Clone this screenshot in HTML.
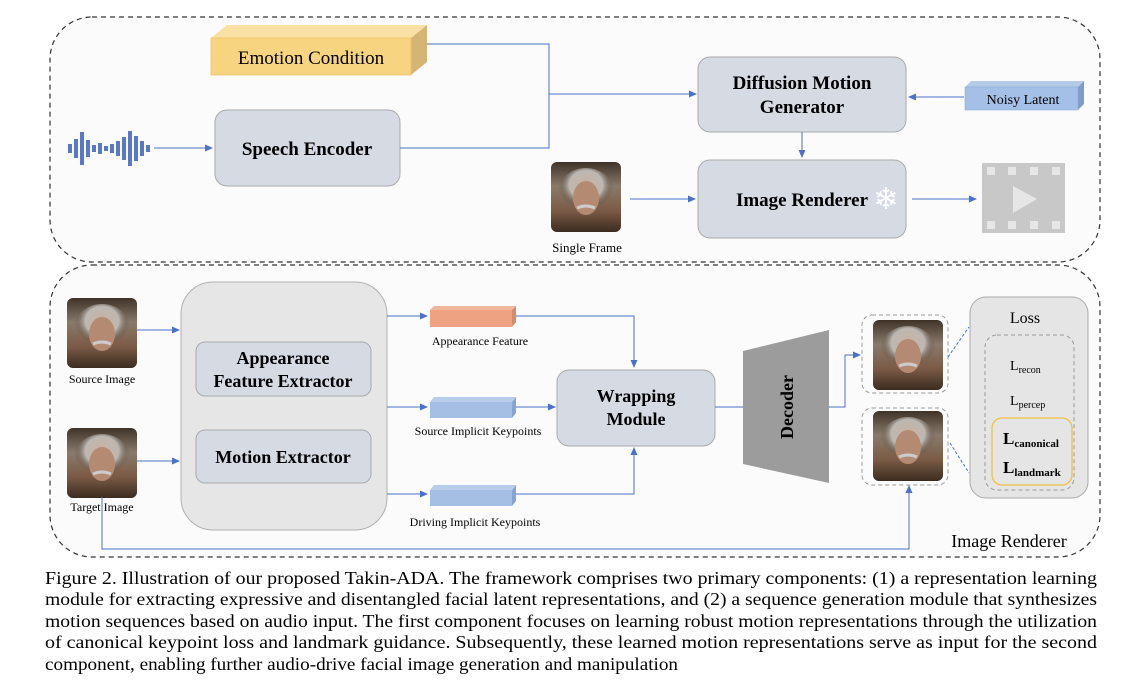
<!DOCTYPE html>
<html><head><meta charset="utf-8"><style>
html,body{margin:0;padding:0;background:#fff}
svg{display:block}
text{font-family:"Liberation Serif",serif}
.b{font-weight:bold}
</style></head><body>
<svg width="1138" height="696" viewBox="0 0 1138 696" xmlns="http://www.w3.org/2000/svg">
<defs>
<marker id="a" markerWidth="8" markerHeight="8" refX="7" refY="4" orient="auto" markerUnits="userSpaceOnUse"><path d="M0,0.5 L8,4 L0,7.5z" fill="#4a72c8"/></marker>
<linearGradient id="face" x1="0" y1="0" x2="0" y2="1"><stop offset="0" stop-color="#3f3328"/><stop offset="0.35" stop-color="#8a7a6a"/><stop offset="0.7" stop-color="#7a5a45"/><stop offset="1" stop-color="#3a2c20"/></linearGradient>
<radialGradient id="hair" cx="0.5" cy="0.35" r="0.5"><stop offset="0" stop-color="#c8b2a0"/><stop offset="0.6" stop-color="#bdb8b2"/><stop offset="1" stop-color="#4a3f35" stop-opacity="0"/></radialGradient>
<g id="faceimg"><rect x="0" y="0" width="70" height="70" rx="6" fill="url(#face)"/><ellipse cx="35" cy="30" rx="28" ry="24" fill="url(#hair)"/><ellipse cx="35" cy="36" rx="13" ry="17" fill="#b58a72"/><path d="M26,46 q9,-4 18,0" stroke="#ccc" stroke-width="3" fill="none"/></g>
</defs>
<rect width="1138" height="696" fill="#fff"/>
<rect x="50" y="17" width="1050" height="245" rx="42" fill="#fbfbfb" stroke="#333" stroke-width="1.2" stroke-dasharray="5,4"/>
<polygon points="211,38 227,25 427,25 411,38" fill="#f9e0a4"/>
<polygon points="411,38 427,25 427,62 411,75" fill="#d6b474"/>
<rect x="211" y="38" width="200" height="37" fill="#f7d47f" stroke="#efc46a" stroke-width="0.8"/>
<text x="311" y="64" font-size="19" text-anchor="middle">Emotion Condition</text>
<g fill="#5a78c8">
<rect x="68" y="144" width="4" height="9"/><rect x="74" y="139" width="4" height="19"/><rect x="80" y="132" width="4" height="33"/><rect x="86" y="140" width="4" height="17"/><rect x="92" y="145" width="4" height="7"/><rect x="98" y="143" width="4" height="11"/><rect x="104" y="146" width="4" height="5"/><rect x="110" y="144" width="4" height="9"/><rect x="116" y="141" width="4" height="15"/><rect x="122" y="137" width="4" height="23"/><rect x="128" y="131" width="4" height="35"/><rect x="134" y="136" width="4" height="25"/><rect x="140" y="141" width="4" height="15"/><rect x="146" y="145" width="4" height="7"/>
</g>
<line x1="154" y1="148" x2="212" y2="148" stroke="#4a72c8" stroke-width="1" marker-end="url(#a)"/>
<rect x="215" y="110" width="185" height="76" rx="12" fill="#d6dae3" stroke="#aaa"/>
<text x="307" y="155" font-size="19" class="b" text-anchor="middle">Speech Encoder</text>
<polyline points="427,44 549,44 549,148 400,148" fill="none" stroke="#4a72c8" stroke-width="1"/>
<line x1="549" y1="94" x2="696" y2="94" stroke="#4a72c8" stroke-width="1" marker-end="url(#a)"/>
<rect x="698" y="57" width="208" height="75" rx="12" fill="#d6dae3" stroke="#aaa"/>
<text x="802" y="89" font-size="19" class="b" text-anchor="middle">Diffusion Motion</text>
<text x="802" y="113" font-size="19" class="b" text-anchor="middle">Generator</text>
<polygon points="965,87 971,81 1084,81 1078,87" fill="#b4cbe8"/>
<polygon points="1078,87 1084,81 1084,104 1078,110" fill="#7c9ccc"/>
<rect x="965" y="87" width="113" height="23" fill="#a5c0e6" stroke="#90acd8" stroke-width="0.6"/>
<text x="1023" y="104" font-size="14" text-anchor="middle">Noisy Latent</text>
<line x1="964" y1="97" x2="909" y2="97" stroke="#4a72c8" stroke-width="1" marker-end="url(#a)"/>
<line x1="802" y1="132" x2="802" y2="157" stroke="#4a72c8" stroke-width="1" marker-end="url(#a)"/>
<rect x="698" y="160" width="208" height="78" rx="12" fill="#d6dae3" stroke="#aaa"/>
<text x="802" y="206" font-size="19" class="b" text-anchor="middle">Image Renderer</text>
<text x="886" y="209" font-size="30" fill="#fff" text-anchor="middle" font-family="DejaVu Sans">❄</text>
<use href="#faceimg" x="551" y="162"/>
<text x="587" y="252" font-size="13" text-anchor="middle">Single Frame</text>
<line x1="630" y1="199" x2="695" y2="199" stroke="#4a72c8" stroke-width="1" marker-end="url(#a)"/>
<line x1="912" y1="199" x2="976" y2="199" stroke="#4a72c8" stroke-width="1" marker-end="url(#a)"/>
<rect x="982" y="163" width="83" height="70" fill="#c8c8c8"/>
<g fill="#e6e6e6"><rect x="987" y="167" width="8" height="8"/><rect x="1008" y="167" width="8" height="8"/><rect x="1030" y="167" width="8" height="8"/><rect x="1052" y="167" width="8" height="8"/><rect x="987" y="221" width="8" height="8"/><rect x="1008" y="221" width="8" height="8"/><rect x="1030" y="221" width="8" height="8"/><rect x="1052" y="221" width="8" height="8"/></g>
<polygon points="1013,186 1013,213 1037,199" fill="#e6e6e6"/>

<rect x="50" y="265" width="1050" height="292" rx="42" fill="#fbfbfb" stroke="#333" stroke-width="1.2" stroke-dasharray="5,4"/>
<use href="#faceimg" x="67" y="298"/>
<text x="102" y="383" font-size="12" text-anchor="middle">Source Image</text>
<use href="#faceimg" x="67" y="428"/>
<text x="102" y="511" font-size="12" text-anchor="middle">Target Image</text>
<line x1="137" y1="330" x2="179" y2="330" stroke="#4a72c8" stroke-width="1" marker-end="url(#a)"/>
<line x1="137" y1="461" x2="179" y2="461" stroke="#4a72c8" stroke-width="1" marker-end="url(#a)"/>
<rect x="181" y="282" width="206" height="248" rx="32" fill="#e6e6e6" stroke="#b0b0b0"/>
<rect x="196" y="342" width="175" height="54" rx="9" fill="#d6dae3" stroke="#aaa"/>
<text x="283" y="364" font-size="18" class="b" text-anchor="middle">Appearance</text>
<text x="283" y="387" font-size="18" class="b" text-anchor="middle">Feature Extractor</text>
<rect x="196" y="430" width="175" height="53" rx="9" fill="#d6dae3" stroke="#aaa"/>
<text x="283" y="463" font-size="18" class="b" text-anchor="middle">Motion Extractor</text>
<line x1="387" y1="316" x2="427" y2="316" stroke="#4a72c8" stroke-width="1" marker-end="url(#a)"/>
<polygon points="430,310 434,306 516,306 512,310" fill="#f0b79a"/><polygon points="512,310 516,306 516,322 512,327" fill="#d28c6c"/>
<rect x="430" y="310" width="82" height="17" fill="#eea282"/>
<text x="480" y="345" font-size="12" text-anchor="middle">Appearance Feature</text>
<line x1="387" y1="407" x2="427" y2="407" stroke="#4a72c8" stroke-width="1" marker-end="url(#a)"/>
<polygon points="430,402 434,397 516,397 512,402" fill="#b8cdea"/><polygon points="512,402 516,397 516,413 512,418" fill="#86a4d2"/>
<rect x="430" y="402" width="82" height="16" fill="#a5bfe4"/>
<text x="478" y="435" font-size="12" text-anchor="middle">Source Implicit Keypoints</text>
<line x1="387" y1="494" x2="427" y2="494" stroke="#4a72c8" stroke-width="1" marker-end="url(#a)"/>
<polygon points="430,490 434,485 516,485 512,490" fill="#b8cdea"/><polygon points="512,490 516,485 516,501 512,506" fill="#86a4d2"/>
<rect x="430" y="490" width="82" height="16" fill="#a5bfe4"/>
<text x="475" y="526" font-size="12" text-anchor="middle">Driving Implicit Keypoints</text>
<polyline points="516,316 634,316 634,367" fill="none" stroke="#4a72c8" stroke-width="1" marker-end="url(#a)"/>
<line x1="516" y1="407" x2="555" y2="407" stroke="#4a72c8" stroke-width="1" marker-end="url(#a)"/>
<polyline points="516,494 634,494 634,448" fill="none" stroke="#4a72c8" stroke-width="1" marker-end="url(#a)"/>
<rect x="557" y="370" width="158" height="76" rx="12" fill="#d6dae3" stroke="#aaa"/>
<text x="636" y="402" font-size="18" class="b" text-anchor="middle">Wrapping</text>
<text x="636" y="425" font-size="18" class="b" text-anchor="middle">Module</text>
<line x1="715" y1="407" x2="743" y2="407" stroke="#4a72c8" stroke-width="1"/>
<polygon points="743,351 829,330 829,483 743,464" fill="#9c9c9c"/>
<text transform="translate(793,407) rotate(-90)" font-size="18" class="b" text-anchor="middle">Decoder</text>
<polyline points="829,407 845,407 845,355 860,355" fill="none" stroke="#4a72c8" stroke-width="1" marker-end="url(#a)"/>
<rect x="862" y="315" width="86" height="78" rx="10" fill="none" stroke="#999" stroke-dasharray="4,3"/>
<use href="#faceimg" x="873" y="320"/>
<rect x="862" y="408" width="86" height="77" rx="10" fill="none" stroke="#999" stroke-dasharray="4,3"/>
<use href="#faceimg" x="873" y="411"/>
<line x1="948" y1="357" x2="969" y2="327" stroke="#4a72c8" stroke-dasharray="3,2"/>
<line x1="950" y1="443" x2="969" y2="473" stroke="#4a72c8" stroke-dasharray="3,2"/>
<polyline points="102,497 102,549 909,549 909,486" fill="none" stroke="#4a72c8" stroke-width="1" marker-end="url(#a)"/>
<rect x="970" y="297" width="118" height="201" rx="16" fill="#e5e5e5" stroke="#aaa"/>
<text x="1025" y="323" font-size="16" text-anchor="middle">Loss</text>
<rect x="985" y="335" width="89" height="155" rx="12" fill="none" stroke="#999" stroke-dasharray="4,3"/>
<text x="1010" y="370" font-size="14">L<tspan font-size="10" dy="3">recon</tspan></text>
<text x="1010" y="405" font-size="14">L<tspan font-size="10" dy="3">percep</tspan></text>
<rect x="992" y="418" width="80" height="67" rx="10" fill="none" stroke="#f0c040" stroke-width="1.3"/>
<text x="1003" y="444" font-size="17" class="b">L<tspan font-size="11" dy="3">canonical</tspan></text>
<text x="1003" y="473" font-size="17" class="b">L<tspan font-size="11" dy="3">landmark</tspan></text>
<text x="1009" y="547" font-size="18" text-anchor="middle">Image Renderer</text>

<g font-size="17.5">
<text x="45" y="584" textLength="1052" lengthAdjust="spacingAndGlyphs">Figure 2. Illustration of our proposed Takin-ADA. The framework comprises two primary components: (1) a representation learning</text>
<text x="45" y="605" textLength="1052" lengthAdjust="spacingAndGlyphs">module for extracting expressive and disentangled facial latent representations, and (2) a sequence generation module that synthesizes</text>
<text x="45" y="627" textLength="1052" lengthAdjust="spacingAndGlyphs">motion sequences based on audio input.  The first component focuses on learning robust motion representations through the utilization</text>
<text x="45" y="648" textLength="1052" lengthAdjust="spacingAndGlyphs">of canonical keypoint loss and landmark guidance.  Subsequently, these learned motion representations serve as input for the second</text>
<text x="45" y="670" textLength="633" lengthAdjust="spacingAndGlyphs">component, enabling further audio-drive facial image generation and manipulation</text>
</g>
</svg>
</body></html>
